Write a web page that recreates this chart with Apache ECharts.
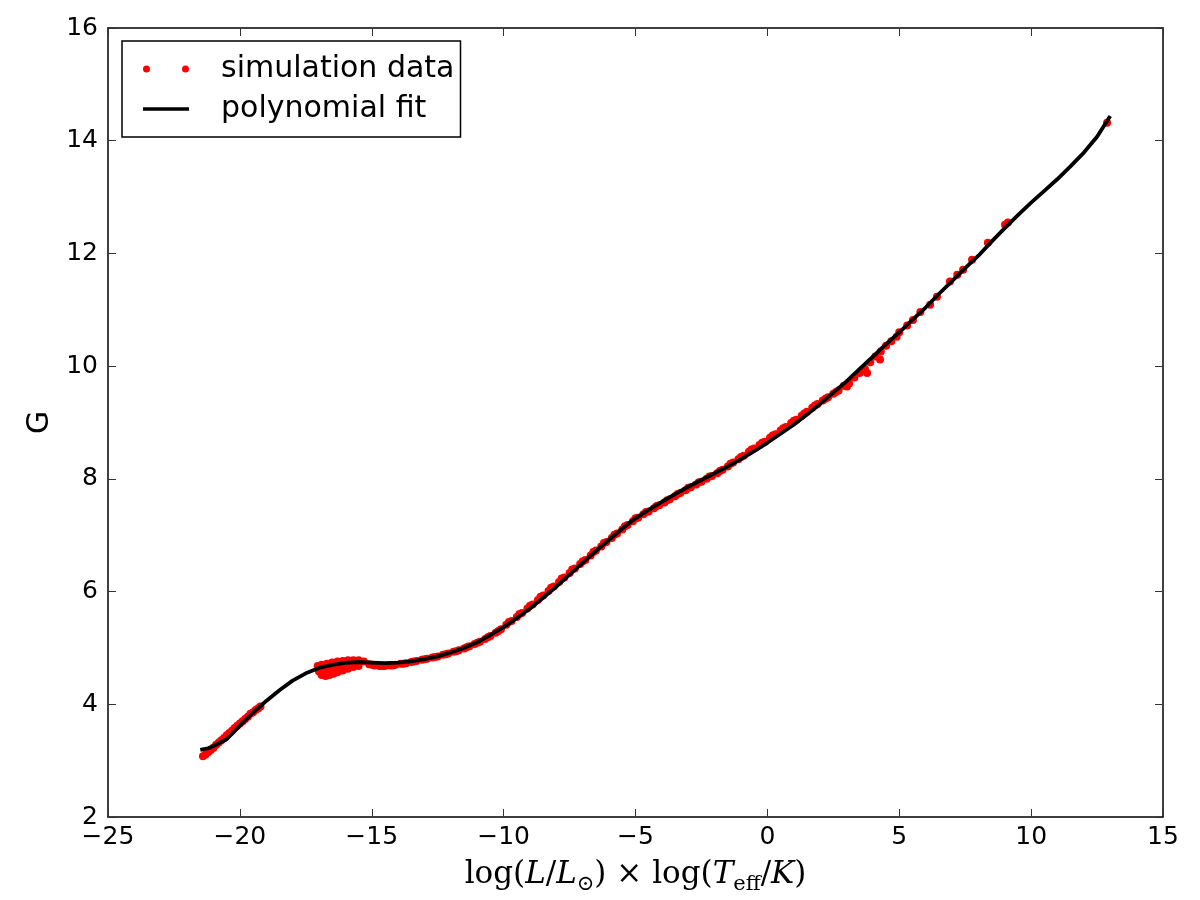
<!DOCTYPE html>
<html>
<head>
<meta charset="utf-8">
<script src="https://cdn.jsdelivr.net/npm/echarts@6/dist/echarts.min.js"></script>
<style>html,body{margin:0;padding:0;background:#fff}#c{width:1200px;height:900px}</style>
</head>
<body>
<div id="c"></div>
<script>
// ---- data ----
const xTicks = [-25, -20, -15, -10, -5, 0, 5, 10, 15];
const yTicks = [2, 4, 6, 8, 10, 12, 14, 16];

// polynomial fit curve (x, G)
const fitX = [-21.5,-21.2,-21.0,-20.5,-20.0,-19.5,-19.0,-18.5,-18.0,-17.5,-17.0,-16.5,-16.0,-15.5,-15.0,-14.5,-14.0,-13.5,-13.0,-12.5,-12.0,-11.5,-11.0,-10.5,-10.0,-9.5,-9.0,-8.5,-8.0,-7.5,-7.0,-6.5,-6.0,-5.5,-5.0,-4.5,-4.0,-3.5,-3.0,-2.5,-2.0,-1.5,-1.0,-0.5,0.0,0.5,1.0,1.5,2.0,2.5,3.0,3.5,4.0,4.5,5.0,5.5,6.0,6.5,7.0,7.5,8.0,8.5,9.0,9.5,10.0,10.5,11.0,11.5,12.0,12.5,13.0];
const fitY = [3.19,3.22,3.26,3.38,3.62,3.85,4.06,4.25,4.42,4.55,4.645,4.70,4.735,4.75,4.74,4.73,4.74,4.76,4.80,4.85,4.92,5.00,5.10,5.23,5.37,5.53,5.70,5.89,6.09,6.30,6.51,6.72,6.92,7.12,7.30,7.45,7.59,7.73,7.86,7.98,8.10,8.22,8.35,8.49,8.64,8.80,8.96,9.14,9.33,9.53,9.73,9.95,10.17,10.39,10.60,10.82,11.04,11.28,11.51,11.74,11.96,12.21,12.45,12.68,12.90,13.11,13.32,13.55,13.79,14.07,14.44];

// simulation data points (x, G)
const simX = [
 -21.4,-21.3,-21.2,-21.1,-21.0,-20.9,-20.8,-20.7,-20.6,-20.5,-20.4,-20.3,-20.2,-20.1,-20.0,-19.9,-19.8,-19.7,-19.6,-19.5,-19.4,-19.3,-19.22,
 -17.05,-16.9,-16.7,-16.5,-16.3,-16.1,-15.9,-15.7,-15.5,-15.3,
 -17.0,-16.9,-16.75,-16.6,-16.45,-16.3,-16.1,-15.9,-15.7,-15.5,-17.0,-16.8,-16.2,-15.95,
 -16.7,-16.5,-16.3,-16.0,-15.8,-15.6,
 -15.1,-14.9,-14.7,-14.5,-14.3,-14.1,-13.9,-13.7,-13.5,-13.3,-13.1,-12.9,-12.7,-12.5,-12.3,-12.1,-11.9,-11.7,-11.5,-11.3,-11.1,-10.9,-10.7,-10.5,-10.3,-10.1,
 -9.9,-9.7,-9.5,-9.3,-9.1,-8.9,-8.7,-8.5,-8.3,-8.1,-7.9,-7.7,-7.5,-7.3,-7.1,-6.9,-6.7,-6.5,-6.3,-6.1,-5.9,-5.7,-5.5,-5.3,-5.1,
 -4.9,-4.7,-4.5,-4.3,-4.1,-3.9,-3.7,-3.5,-3.3,-3.1,-2.9,-2.7,-2.5,-2.3,-2.1,-1.9,-1.7,-1.5,-1.3,-1.1,-0.9,-0.7,-0.5,-0.3,-0.1,
 0.1,0.3,0.5,0.7,0.9,1.1,1.3,1.5,1.7,1.9,2.1,2.3,2.5,2.7,2.9,3.1,3.3,3.5,3.7,3.9,4.1,4.3,4.5,4.7,4.9,5.0,
 -15.0,-14.6,-14.2,-13.8,-13.4,-13.0,-12.6,-12.2,-11.8,-11.4,-11.0,-10.6,-10.2,-9.8,-9.4,-9.0,-8.6,-8.2,-7.8,-7.4,-7.0,-6.6,-6.2,-5.8,-5.4,-5.0,
 -4.6,-4.2,-3.8,-3.4,-3.0,-2.6,-2.2,-1.8,-1.4,-1.0,-0.6,-0.2,0.2,0.6,1.0,1.4,1.8,2.2,2.6,
 3.02,3.78,4.27,
 5.3,5.52,5.8,6.17,6.43,6.92,7.2,7.42,7.76,8.36,9.01,9.12,12.88];
const simY = [
 3.08,3.11,3.15,3.19,3.23,3.28,3.32,3.36,3.40,3.45,3.49,3.53,3.58,3.62,3.66,3.70,3.74,3.78,3.83,3.86,3.90,3.93,3.96,
 4.68,4.70,4.72,4.74,4.76,4.77,4.78,4.78,4.78,4.76,
 4.58,4.52,4.50,4.52,4.54,4.57,4.60,4.63,4.66,4.68,4.62,4.56,4.64,4.70,
 4.62,4.63,4.66,4.68,4.71,4.73,
 4.71,4.69,4.68,4.68,4.69,4.70,4.72,4.73,4.75,4.77,4.79,4.81,4.83,4.85,4.88,4.90,4.93,4.96,4.99,5.03,5.07,5.11,5.16,5.21,5.27,5.33,
 5.41,5.48,5.55,5.62,5.70,5.77,5.85,5.93,6.01,6.09,6.17,6.25,6.33,6.41,6.49,6.56,6.64,6.73,6.80,6.88,6.95,7.03,7.10,7.18,7.25,
 7.31,7.37,7.42,7.48,7.53,7.58,7.64,7.69,7.75,7.80,7.85,7.90,7.95,8.00,8.05,8.10,8.16,8.22,8.29,8.35,8.41,8.48,8.54,8.60,8.66,
 8.73,8.79,8.86,8.92,8.99,9.05,9.12,9.19,9.26,9.33,9.39,9.45,9.51,9.57,9.65,9.69,9.80,9.88,9.95,10.07,10.17,10.26,10.36,10.44,10.52,10.60,
 4.70,4.68,4.69,4.72,4.76,4.80,4.84,4.89,4.94,5.01,5.09,5.19,5.30,5.46,5.60,5.75,5.91,6.07,6.23,6.39,6.54,6.70,6.86,7.01,7.16,7.30,
 7.41,7.52,7.62,7.73,7.84,7.94,8.04,8.14,8.27,8.39,8.52,8.64,8.77,8.90,9.03,9.16,9.30,9.42,9.54,
 9.64,9.88,10.12,
 10.72,10.82,10.96,11.09,11.23,11.50,11.62,11.71,11.89,12.19,12.51,12.55,14.32];

const fitData = fitX.map((x, i) => [x, fitY[i]]);
const simData = simX.map((x, i) => [x, simY[i]]);

const minus = v => String(v).replace('-', '\u2212');
const tickFont = { fontFamily: 'DejaVu Sans', fontSize: 25, color: '#000' };
const tickStyle = { show: true, inside: true, length: 8, lineStyle: { color: '#333', width: 1 } };
const frame = { show: true, onZero: false, lineStyle: { color: '#000', width: 1.5 } };

const chart = echarts.init(document.getElementById('c'), null, { renderer: 'canvas' });
chart.setOption({
  backgroundColor: '#fff',
  animation: false,
  grid: { left: 108, right: 37, top: 28, bottom: 82, containLabel: false },
  legend: {
    orient: 'vertical', left: 122, top: 41,
    backgroundColor: '#fff',
    borderColor: '#000', borderWidth: 1.5, borderRadius: 0,
    padding: [13, 6, 13, 21],
    itemGap: 10, itemWidth: 46, itemHeight: 8,
    textStyle: { fontFamily: 'DejaVu Sans', fontSize: 30, color: '#000', padding: [0, 0, 0, 27] },
    data: [
      { name: 'simulation data', icon: 'path://M0,4a3.5,3.5 0 1,0 7,0a3.5,3.5 0 1,0 -7,0M39,4a3.5,3.5 0 1,0 7,0a3.5,3.5 0 1,0 -7,0M0,0h0.01v0.01h-0.01zM45.99,7.99h0.01v0.01h-0.01z',
        itemStyle: { color: '#ff0000', opacity: 1 } },
      { name: 'polynomial fit', icon: 'path://M0,2.2h46v3.6h-46zM0,0h0.01v0.01h-0.01zM45.99,7.99h0.01v0.01h-0.01z',
        itemStyle: { color: '#000' } }
    ]
  },
  xAxis: [
    {
      type: 'value', min: -25, max: 15, interval: 5, position: 'bottom',
      axisLine: frame, axisTick: tickStyle, splitLine: { show: false },
      axisLabel: Object.assign({ margin: 8, formatter: v => minus(v) }, tickFont),
      name: '{a|log(}{i|L}{a|/}{i|L}{sub|\u2299}{a|) \u00d7 log(}{i|T}{sub|eff}{a|/}{i|K}{a|)}',
      nameLocation: 'middle', nameGap: 38,
      nameTextStyle: {
        rich: {
          a: { fontFamily: 'DejaVu Serif', fontSize: 31, color: '#000', lineHeight: 40, verticalAlign: 'middle' },
          i: { fontFamily: 'DejaVu Serif', fontStyle: 'italic', fontSize: 31, color: '#000', lineHeight: 40, verticalAlign: 'middle' },
          sub: { fontFamily: 'DejaVu Serif', fontSize: 21, color: '#000', lineHeight: 40, verticalAlign: 'bottom' }
        }
      }
    },
    {
      type: 'value', min: -25, max: 15, interval: 5, position: 'top',
      axisLine: frame, axisTick: tickStyle, axisLabel: { show: false }, splitLine: { show: false }
    }
  ],
  yAxis: [
    {
      type: 'value', min: 2, max: 16, interval: 2, position: 'left',
      axisLine: frame, axisTick: tickStyle, splitLine: { show: false },
      axisLabel: Object.assign({ margin: 10, formatter: v => minus(v) }, tickFont),
      name: 'G', nameLocation: 'middle', nameGap: 45, nameRotate: 90,
      nameTextStyle: { fontFamily: 'DejaVu Sans', fontSize: 30, color: '#000' }
    },
    {
      type: 'value', min: 2, max: 16, interval: 2, position: 'right',
      axisLine: frame, axisTick: tickStyle, axisLabel: { show: false }, splitLine: { show: false }
    }
  ],
  series: [
    {
      name: 'simulation data', type: 'scatter', data: simData,
      symbol: 'circle', symbolSize: 8,
      itemStyle: { color: '#ff0000', opacity: 1 }, z: 2
    },
    {
      name: 'polynomial fit', type: 'line', data: fitData,
      symbol: 'none', showSymbol: false, smooth: false,
      lineStyle: { color: '#000', width: 3.8 }, itemStyle: { color: '#000' }, z: 3
    }
  ]
});
</script>
</body>
</html>
